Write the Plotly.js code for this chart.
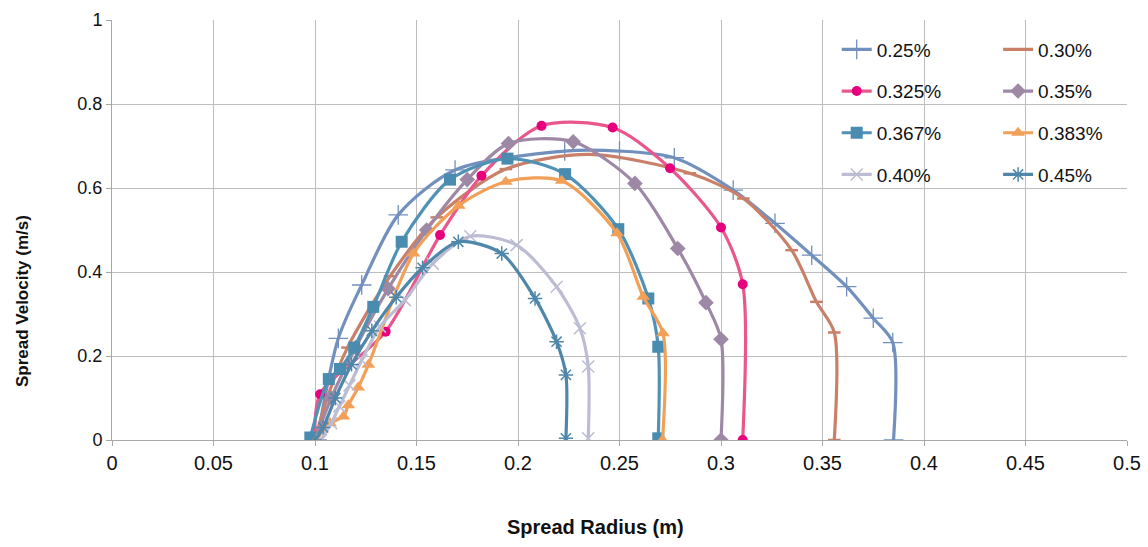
<!DOCTYPE html>
<html>
<head>
<meta charset="utf-8">
<script src="https://cdn.plot.ly/plotly-3.0.1.min.js"></script>
<style>html,body{margin:0;padding:0;background:#fff;}#chart{width:1148px;height:547px;}</style>
</head>
<body>
<div id="chart"></div>
<script>
// Series names
const seriesNames = ["0.25%", "0.30%", "0.325%", "0.35%", "0.367%", "0.383%", "0.40%", "0.45%"];

// Spread radius (m) and spread velocity (m/s) per series
const r25 = [0.101, 0.1115, 0.123, 0.141, 0.169, 0.223, 0.25, 0.277, 0.306, 0.3266, 0.3447, 0.3619, 0.375, 0.3846, 0.385];
const v25 = [0, 0.242, 0.369, 0.536, 0.643, 0.688, 0.688, 0.672, 0.595, 0.516, 0.440, 0.365, 0.290, 0.232, 0];

const r30 = [0.1, 0.106, 0.116, 0.137, 0.16, 0.194, 0.235, 0.2847, 0.311, 0.3348, 0.347, 0.3558, 0.3558];
const v30 = [0, 0.1, 0.22, 0.39, 0.53, 0.645, 0.68, 0.635, 0.575, 0.452, 0.329, 0.256, 0];

const r325 = [0.1, 0.1025, 0.1348, 0.1616, 0.182, 0.2116, 0.2466, 0.2749, 0.300, 0.3107, 0.3107];
const v325 = [0, 0.109, 0.258, 0.488, 0.629, 0.748, 0.744, 0.647, 0.506, 0.371, 0];

const r35 = [0.1, 0.108, 0.12, 0.136, 0.155, 0.175, 0.1953, 0.2272, 0.2576, 0.2787, 0.2926, 0.300, 0.300];
const v35 = [0, 0.1, 0.22, 0.36, 0.5, 0.62, 0.706, 0.710, 0.611, 0.456, 0.327, 0.240, 0];

const r367 = [0.0977, 0.1068, 0.1123, 0.1193, 0.1287, 0.1427, 0.1665, 0.1948, 0.2232, 0.2494, 0.2642, 0.2691, 0.2691];
const v367 = [0.006, 0.145, 0.169, 0.22, 0.317, 0.472, 0.62, 0.67, 0.633, 0.502, 0.337, 0.222, 0.004];

const r383 = [0.1005, 0.1074, 0.114, 0.1164, 0.1213, 0.1263, 0.1485, 0.1708, 0.194, 0.2215, 0.2488, 0.2617, 0.2714, 0.2712];
const v383 = [0, 0.04, 0.056, 0.083, 0.125, 0.179, 0.444, 0.558, 0.615, 0.617, 0.492, 0.341, 0.254, 0];

const r40 = [0.103, 0.108, 0.112, 0.117, 0.123, 0.132, 0.1443, 0.158, 0.1765, 0.1993, 0.219, 0.2305, 0.2346, 0.2346];
const v40 = [0, 0.04, 0.08, 0.13, 0.19, 0.27, 0.333, 0.42, 0.485, 0.464, 0.365, 0.266, 0.175, 0.004];

const r45 = [0.1, 0.104, 0.11, 0.118, 0.128, 0.14, 0.153, 0.1706, 0.192, 0.2084, 0.219, 0.2236, 0.2236];
const v45 = [0, 0.03, 0.1, 0.18, 0.26, 0.34, 0.41, 0.472, 0.444, 0.337, 0.234, 0.155, 0.004];

// Axis ticks
const xTicks = [0, 0.05, 0.1, 0.15, 0.2, 0.25, 0.3, 0.35, 0.4, 0.45, 0.5];
const xTickText = ["0", "0.05", "0.1", "0.15", "0.2", "0.25", "0.3", "0.35", "0.4", "0.45", "0.5"];
const yTicks = [0, 0.2, 0.4, 0.6, 0.8, 1];
const yTickText = ["0", "0.2", "0.4", "0.6", "0.8", "1"];

const xs = [r25, r30, r325, r35, r367, r383, r40, r45];
const ys = [v25, v30, v325, v35, v367, v383, v40, v45];

const styles = [
  {color: "#7290bd", symbol: "cross-thin-open", size: 14, mcolor: "#7290bd", lw: 1.3, legend: "legend"},
  {color: "#c98068", symbol: "line-ew-open", size: 9, mcolor: "#c98068", lw: 2.5, legend: "legend2"},
  {color: "#e8588c", symbol: "circle", size: 10, mcolor: "#e6007e", lw: 0, legend: "legend"},
  {color: "#9d88a5", symbol: "diamond", size: 12, mcolor: "#9d88a5", lw: 0, legend: "legend2"},
  {color: "#4f92b6", symbol: "square", size: 12, mcolor: "#4a8bb0", lw: 0, legend: "legend"},
  {color: "#f2a058", symbol: "triangle-up", size: 12, mcolor: "#f2a058", lw: 0, legend: "legend2"},
  {color: "#bcbcd3", symbol: "x-thin-open", size: 12, mcolor: "#bcbcd3", lw: 1.5, legend: "legend"},
  {color: "#4f87aa", symbol: "asterisk-open", size: 12, mcolor: "#4f87aa", lw: 1.5, legend: "legend2"}
];

const traces = seriesNames.map((name, i) => {
  const s = styles[i];
  const marker = {symbol: s.symbol, size: s.size, color: s.mcolor};
  if (s.lw > 0) marker.line = {color: s.mcolor, width: s.lw};
  return {
    type: "scatter",
    mode: "lines+markers",
    name: name,
    x: xs[i],
    y: ys[i],
    line: {color: s.color, width: 3.2, shape: "spline", smoothing: 0.8},
    marker: marker,
    legend: s.legend,
    legendgroup: "g" + i,
    hoverinfo: "skip"
  };
});

const FONT = "'Liberation Sans', Arimo, Arial, sans-serif";
const FONT_N = "'Liberation Sans Narrow', 'Liberation Sans', Arial, sans-serif";

const legendCommon = {
  bgcolor: "rgba(0,0,0,0)",
  borderwidth: 0,
  font: {family: FONT, size: 19, color: "#111"},
  traceorder: "grouped",
  tracegroupgap: 14,
  xanchor: "left",
  yanchor: "top",
  itemwidth: 30
};

const layout = {
  width: 1148,
  height: 547,
  margin: {l: 112, r: 21, t: 20, b: 107},
  paper_bgcolor: "#ffffff",
  plot_bgcolor: "#ffffff",
  showlegend: true,
  font: {family: FONT, color: "#111"},
  xaxis: {
    range: [0, 0.5],
    tickvals: xTicks,
    ticktext: xTickText,
    tickfont: {family: FONT_N, size: 20, color: "#111"},
    showgrid: true,
    gridcolor: "#bdbdbd",
    gridwidth: 1,
    zeroline: false,
    showline: true,
    linecolor: "#a8a8a8",
    linewidth: 1,
    ticks: "outside",
    ticklen: 5,
    tickcolor: "#a8a8a8",
    fixedrange: true
  },
  yaxis: {
    range: [0, 1],
    tickvals: yTicks,
    ticktext: yTickText,
    tickfont: {family: FONT, size: 18, color: "#111"},
    showgrid: true,
    gridcolor: "#bdbdbd",
    gridwidth: 1,
    zeroline: false,
    showline: true,
    linecolor: "#a8a8a8",
    linewidth: 1,
    ticks: "outside",
    ticklen: 5,
    tickcolor: "#a8a8a8",
    fixedrange: true
  },
  legend: Object.assign({}, legendCommon, {x: 0.714, y: 0.975}),
  legend2: Object.assign({}, legendCommon, {x: 0.873, y: 0.975}),
  annotations: [
    {
      text: "<b>Spread Radius (m)</b>",
      xref: "paper", yref: "paper",
      x: 0.476, y: -0.207,
      xanchor: "center", yanchor: "middle",
      showarrow: false,
      font: {family: FONT_N, size: 20, color: "#111"}
    },
    {
      text: "<b>Spread Velocity (m/s)</b>",
      xref: "paper", yref: "paper",
      x: -0.088, y: 0.33,
      xanchor: "center", yanchor: "middle",
      textangle: -90,
      showarrow: false,
      font: {family: FONT, size: 17, color: "#111"}
    }
  ]
};

Plotly.newPlot("chart", traces, layout, {displayModeBar: false, staticPlot: true});
</script>
</body>
</html>
